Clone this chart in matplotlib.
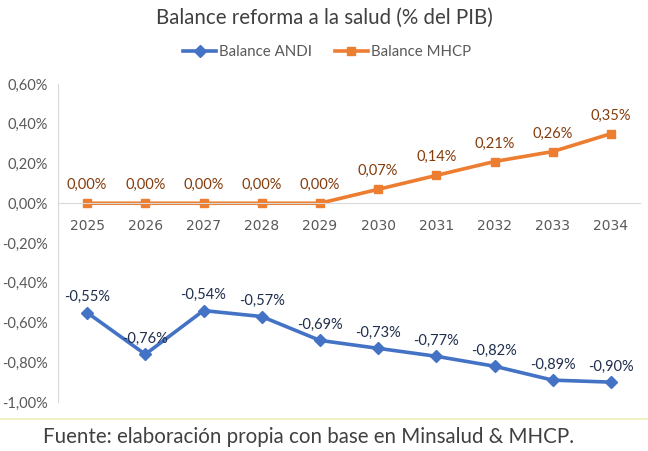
import matplotlib.pyplot as plt

plt.rcParams['font.family'] = ['Lato', 'DejaVu Sans']

years = ['2025', '2026', '2027', '2028', '2029', '2030', '2031', '2032', '2033', '2034']
andi = [-0.55, -0.76, -0.54, -0.57, -0.69, -0.73, -0.77, -0.82, -0.89, -0.90]
mhcp = [0.00, 0.00, 0.00, 0.00, 0.00, 0.07, 0.14, 0.21, 0.26, 0.35]
yticks = [-1.0, -0.8, -0.6, -0.4, -0.2, 0.0, 0.2, 0.4, 0.6]

blue = '#4472C4'
orange = '#ED7D31'
grey = '#595959'


def pct(v):
    return f"{v:.2f}%".replace('.', ',')


fig = plt.figure(figsize=(6.48, 4.51), dpi=100)
ax = fig.add_axes([58 / 648, 1 - 402 / 451, 582 / 648, 318 / 451])

x = list(range(len(years)))
ax.plot(x, andi, color=blue, lw=2.6, marker='D', ms=6, label='Balance ANDI')
ax.plot(x, mhcp, color=orange, lw=2.6, marker='s', ms=6, label='Balance MHCP')

for i, v in enumerate(andi):
    ax.annotate(pct(v), (i, v), xytext=(0, 6), textcoords='offset points',
                ha='center', va='bottom', fontsize=10.5, color='#1F2E4D')
for i, v in enumerate(mhcp):
    ax.annotate(pct(v), (i, v), xytext=(0, 8), textcoords='offset points',
                ha='center', va='bottom', fontsize=10.5, color='#843C0C')

ax.set_xlim(-0.5, len(years) - 0.5)
ax.set_ylim(-1.0, 0.6)
ax.set_yticks(yticks)
ax.set_yticklabels([pct(v) for v in yticks])
ax.set_xticks(x)
ax.set_xticklabels(years)

for s in ['top', 'right']:
    ax.spines[s].set_visible(False)
ax.spines['left'].set_color('#D9D9D9')
ax.spines['bottom'].set_color('#D9D9D9')
ax.spines['bottom'].set_position(('data', 0))
ax.tick_params(axis='y', length=0, pad=7, labelsize=10.5, labelcolor=grey)
ax.tick_params(axis='x', length=0, pad=11, labelsize=10.5, labelcolor=grey)
for t in ax.get_xticklabels():
    t.set_fontfamily(['DejaVu Sans'])
    t.set_fontsize(10)

fig.text(0.5, 1 - 18 / 451, 'Balance reforma a la salud (% del PIB)', ha='center', va='center',
         fontsize=14.8, color='#404040')
fig.legend(loc='center', bbox_to_anchor=(0.505, 1 - 52 / 451), ncol=2, frameon=False,
           fontsize=10.8, labelcolor=grey, handlelength=2.2, columnspacing=1.5, handletextpad=0.2)

fig.add_artist(plt.Line2D([0, 1], [1 - 419 / 451] * 2, color='#EEF0B8', lw=1.2))
fig.text(0.476, 1 - 437 / 451, 'Fuente: elaboración propia con base en Minsalud & MHCP.',
         ha='center', va='center', fontsize=14.8, color='#404040')

fig.savefig('out.png', dpi=100)
